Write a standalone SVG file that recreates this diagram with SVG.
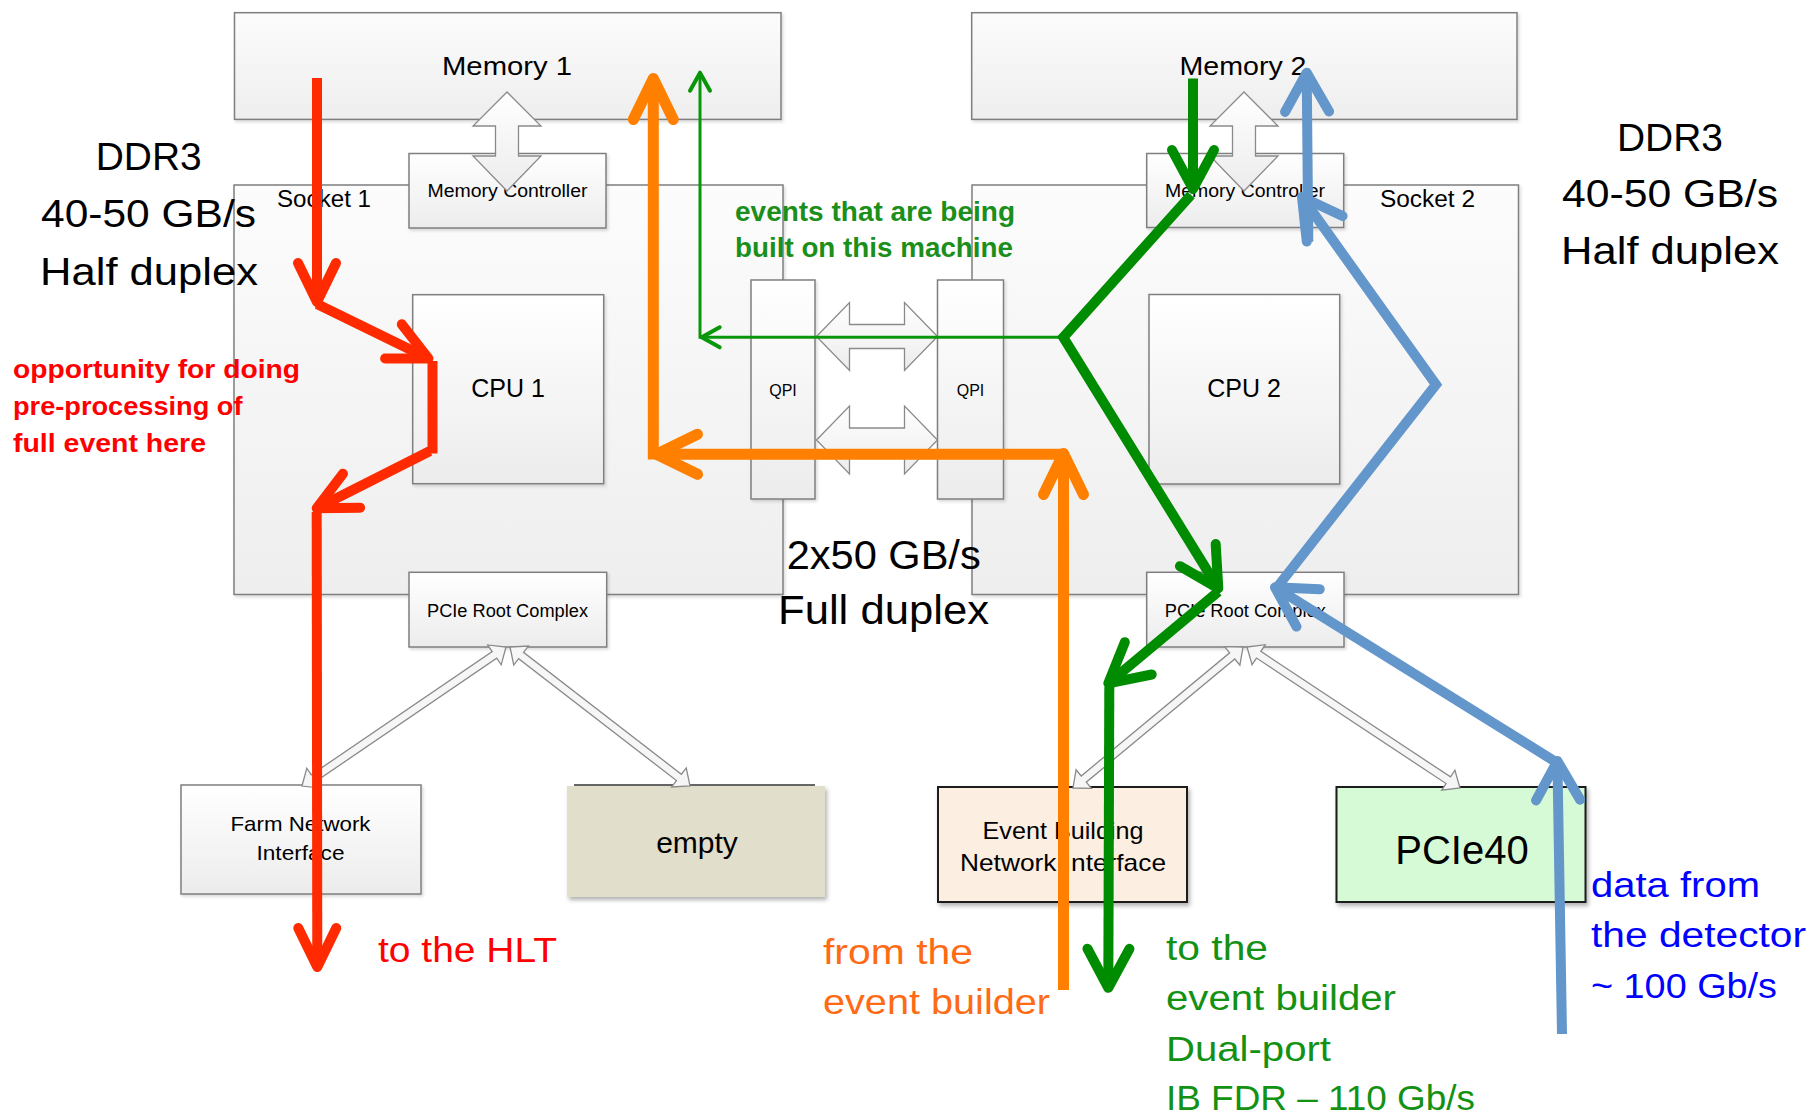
<svg xmlns="http://www.w3.org/2000/svg" width="1812" height="1118" viewBox="0 0 1812 1118">
<defs>
<linearGradient id="gBox" x1="0" y1="0" x2="0" y2="1"><stop offset="0" stop-color="#ffffff"/><stop offset="1" stop-color="#ececec"/></linearGradient>
<linearGradient id="gSock" x1="0" y1="0" x2="0" y2="1"><stop offset="0" stop-color="#fcfcfc"/><stop offset="1" stop-color="#eeeeee"/></linearGradient>
<filter id="sh" x="-10%" y="-10%" width="130%" height="140%"><feDropShadow dx="2" dy="3" stdDeviation="2" flood-color="#000" flood-opacity="0.3"/></filter>
<filter id="shL" x="-10%" y="-10%" width="130%" height="140%"><feDropShadow dx="1.5" dy="2" stdDeviation="1.5" flood-color="#000" flood-opacity="0.15"/></filter>
<marker id="hRed" markerUnits="userSpaceOnUse" viewBox="-60 -35 70 70" refX="0" refY="0" markerWidth="70" markerHeight="70" orient="auto" overflow="visible"><path d="M-39,-19 L0,0 L-39,19" fill="none" stroke="#ff2a00" stroke-width="10" stroke-linecap="round" stroke-linejoin="round"/></marker>
<marker id="hOrange" markerUnits="userSpaceOnUse" viewBox="-60 -35 70 70" refX="0" refY="0" markerWidth="70" markerHeight="70" orient="auto" overflow="visible"><path d="M-41,-20 L0,0 L-41,20" fill="none" stroke="#ff8000" stroke-width="11" stroke-linecap="round" stroke-linejoin="round"/></marker>
<marker id="hGreen" markerUnits="userSpaceOnUse" viewBox="-60 -35 70 70" refX="0" refY="0" markerWidth="70" markerHeight="70" orient="auto" overflow="visible"><path d="M-39,-21 L0,0 L-39,21" fill="none" stroke="#008c00" stroke-width="10" stroke-linecap="round" stroke-linejoin="round"/></marker>
<marker id="hBlue" markerUnits="userSpaceOnUse" viewBox="-60 -35 70 70" refX="0" refY="0" markerWidth="70" markerHeight="70" orient="auto" overflow="visible"><path d="M-39,-22 L0,0 L-39,22" fill="none" stroke="#6396cb" stroke-width="10" stroke-linecap="round" stroke-linejoin="round"/></marker>
<marker id="hThin" markerUnits="userSpaceOnUse" viewBox="-30 -15 35 30" refX="0" refY="0" markerWidth="35" markerHeight="30" orient="auto" overflow="visible"><path d="M-18,-10 L0,0 L-18,10" fill="none" stroke="#0a960a" stroke-width="4" stroke-linecap="round" stroke-linejoin="round"/></marker>
<style>
.box{fill:url(#gBox);stroke:#7f7f7f;stroke-width:1.5}
.sock{fill:url(#gSock);stroke:#7f7f7f;stroke-width:1.5}
.t{font-family:"Liberation Sans",Arial,sans-serif;fill:#000}
.c{text-anchor:middle}
.hol{fill:#f6f6f6;stroke:#8a8a8a;stroke-width:1.3}
.blk{fill:url(#gBox);stroke:#8a8a8a;stroke-width:1.3}
.fl{fill:none;stroke-linecap:butt;stroke-linejoin:miter}
.red{stroke:#ff2a00;stroke-width:10}
.org{stroke:#ff8000;stroke-width:11}
.grn{stroke:#008c00;stroke-width:10}
.blu{stroke:#6396cb;stroke-width:10}
.thn{stroke:#0a960a;stroke-width:3}
</style>
</defs>
<rect width="1812" height="1118" fill="#ffffff"/>

<g id="socket1"><rect class="sock" x="234" y="185" width="549" height="409.5" filter="url(#shL)"/><text class="t" x="277" y="206.5" font-size="23" textLength="94" lengthAdjust="spacingAndGlyphs">Socket 1</text></g>
<g id="socket2"><rect class="sock" x="972" y="185" width="546.5" height="409.5" filter="url(#shL)"/><text class="t" x="1380" y="206.5" font-size="23" textLength="95" lengthAdjust="spacingAndGlyphs">Socket 2</text></g>
<g id="memory1"><rect class="sock" x="234.5" y="12.7" width="546.5" height="106.7" filter="url(#shL)"/><text class="t c" x="507" y="75" font-size="26" textLength="130" lengthAdjust="spacingAndGlyphs">Memory 1</text></g>
<g id="memory2"><rect class="sock" x="971.7" y="12.7" width="545.3" height="106.7" filter="url(#shL)"/><text class="t c" x="1243" y="75" font-size="26" textLength="127" lengthAdjust="spacingAndGlyphs">Memory 2</text></g>
<g id="memctrl1"><rect class="box" x="409" y="153.5" width="197" height="74.5" filter="url(#shL)"/><text class="t c" x="507.5" y="197" font-size="18" textLength="160" lengthAdjust="spacingAndGlyphs">Memory Controller</text></g>
<g id="memctrl2"><rect class="box" x="1146.7" y="153.5" width="197" height="74" filter="url(#shL)"/><text class="t c" x="1245" y="197" font-size="18" textLength="160" lengthAdjust="spacingAndGlyphs">Memory Controller</text></g>
<g id="cpu1"><rect class="box" x="412.7" y="294.7" width="191" height="189" filter="url(#shL)"/><text class="t c" x="508" y="397" font-size="25">CPU 1</text></g>
<g id="cpu2"><rect class="box" x="1149" y="294.5" width="190.7" height="189.5" filter="url(#shL)"/><text class="t c" x="1244" y="397" font-size="25">CPU 2</text></g>
<g id="qpi1"><rect class="box" x="751" y="280" width="64" height="219" filter="url(#shL)"/><text class="t c" x="783" y="396" font-size="16">QPI</text></g>
<g id="qpi2"><rect class="box" x="937.5" y="280" width="66" height="219" filter="url(#shL)"/><text class="t c" x="970.5" y="396" font-size="16">QPI</text></g>
<g id="pcie-root1"><rect class="box" x="409" y="572.3" width="197.7" height="74.7" filter="url(#shL)"/><text class="t c" x="507.5" y="616.7" font-size="18" textLength="161" lengthAdjust="spacingAndGlyphs">PCIe Root Complex</text></g>
<g id="pcie-root2"><rect class="box" x="1146.7" y="572.3" width="197.3" height="74.7" filter="url(#shL)"/><text class="t c" x="1245.3" y="616.7" font-size="18" textLength="161" lengthAdjust="spacingAndGlyphs">PCIe Root Complex</text></g>
<g id="farm-nic"><rect class="box" x="181" y="785" width="240" height="109" filter="url(#shL)"/><text class="t c" x="300.5" y="831" font-size="21" textLength="140" lengthAdjust="spacingAndGlyphs">Farm Network</text><text class="t c" x="300.5" y="860" font-size="21" textLength="88" lengthAdjust="spacingAndGlyphs">Interface</text></g>
<g id="empty"><rect x="567" y="786" width="258" height="111" fill="#e1decb" filter="url(#sh)"/><line x1="574" y1="785" x2="815" y2="785" stroke="#333" stroke-width="1.5"/><text class="t c" x="697" y="853" font-size="30">empty</text></g>
<g id="eb-nic"><rect x="938" y="787" width="249" height="115" fill="#fdeee2" stroke="#1a1a1a" stroke-width="2" filter="url(#sh)"/><text class="t c" x="1063" y="839" font-size="24" textLength="161" lengthAdjust="spacingAndGlyphs">Event Building</text><text class="t c" x="1063" y="871" font-size="24" textLength="206" lengthAdjust="spacingAndGlyphs">Network Interface</text></g>
<g id="pcie40"><rect x="1336.5" y="787" width="249" height="115" fill="#d6fad6" stroke="#1a1a1a" stroke-width="2" filter="url(#sh)"/><text class="t c" x="1462" y="864" font-size="40">PCIe40</text></g>

<g id="connectors">
<path class="blk" d="M507,92 L541,126 L518.5,126 L518.5,156 L541,156 L507,191 L473,156 L495.5,156 L495.5,126 L473,126 Z"/>
<path class="blk" d="M1244,92 L1278,126 L1255.5,126 L1255.5,156 L1278,156 L1244,191 L1210,156 L1232.5,156 L1232.5,126 L1210,126 Z"/>
<path class="blk" d="M816.5,336.5 L849.5,302.5 L849.5,324.5 L904.5,324.5 L904.5,302.5 L937.5,336.5 L904.5,370.5 L904.5,348.5 L849.5,348.5 L849.5,370.5 Z"/>
<path class="blk" d="M816.5,440 L849.5,406 L849.5,428 L904.5,428 L904.5,406 L937.5,440 L904.5,474 L904.5,452 L849.5,452 L849.5,474 Z"/>
<path class="hol" transform="translate(506,647) rotate(145.73)" d="M0,0 L14,-12 L14,-4 L232.9,-4 L232.9,-12 L246.9,0 L232.9,12 L232.9,4 L14,4 L14,12 Z"/>
<path class="hol" transform="translate(510,647) rotate(37.67)" d="M0,0 L14,-12 L14,-4 L213.4,-4 L213.4,-12 L227.4,0 L213.4,12 L213.4,4 L14,4 L14,12 Z"/>
<path class="hol" transform="translate(1243,647) rotate(140.33)" d="M0,0 L14,-12 L14,-4 L206.9,-4 L206.9,-12 L220.9,0 L206.9,12 L206.9,4 L14,4 L14,12 Z"/>
<path class="hol" transform="translate(1247,647) rotate(33.5)" d="M0,0 L14,-12 L14,-4 L241.4,-4 L241.4,-12 L255.4,0 L241.4,12 L241.4,4 L14,4 L14,12 Z"/>

<line class="fl thn" x1="1063" y1="337.3" x2="701.7" y2="337.3" marker-end="url(#hThin)"/>
<line class="fl thn" x1="700" y1="338.8" x2="700" y2="72.7" marker-end="url(#hThin)"/>

<line class="fl red" x1="317" y1="78" x2="317" y2="302" marker-end="url(#hRed)"/>
<line class="fl red" x1="317" y1="304" x2="428.5" y2="358.5" marker-end="url(#hRed)"/>
<line class="fl red" x1="432.5" y1="361" x2="432.5" y2="453.5"/>
<line class="fl red" x1="430" y1="451" x2="316.7" y2="508.3" marker-end="url(#hRed)"/>
<line class="fl red" x1="316.7" y1="512" x2="317.3" y2="967" marker-end="url(#hRed)"/>

<line class="fl org" x1="1063.5" y1="990" x2="1063.5" y2="453.5" marker-end="url(#hOrange)"/>
<line class="fl org" x1="1066" y1="454.3" x2="656.5" y2="454.3" marker-end="url(#hOrange)"/>
<line class="fl org" x1="653.3" y1="459.5" x2="653.3" y2="78.5" marker-end="url(#hOrange)"/>

<line class="fl grn" x1="1193" y1="78.5" x2="1193" y2="189" marker-end="url(#hGreen)"/>
<polyline class="fl grn" points="1191,195 1063.3,337.3 1218.3,588.3" marker-end="url(#hGreen)"/>
<line class="fl grn" x1="1218.3" y1="591.7" x2="1108.3" y2="683.3" marker-end="url(#hGreen)"/>
<line class="fl grn" x1="1109.3" y1="686.7" x2="1108.3" y2="987.8" marker-end="url(#hGreen)"/>

<line class="fl blu" x1="1562" y1="1034" x2="1557.4" y2="761" marker-end="url(#hBlue)"/>
<line class="fl blu" x1="1557.4" y1="763" x2="1275" y2="587.3" marker-end="url(#hBlue)"/>
<polyline class="fl blu" points="1275,590 1436,384.6 1302,197" marker-end="url(#hBlue)"/>
<line class="fl blu" x1="1308.3" y1="241.7" x2="1306.7" y2="72.7" marker-end="url(#hBlue)"/>
</g>

<g id="annotations">
<text class="t c" x="148.7" y="169.5" font-size="38" textLength="106" lengthAdjust="spacingAndGlyphs">DDR3</text>
<text class="t c" x="148.5" y="226.5" font-size="38" textLength="215" lengthAdjust="spacingAndGlyphs">40-50 GB/s</text>
<text class="t c" x="149" y="285" font-size="38" textLength="218" lengthAdjust="spacingAndGlyphs">Half duplex</text>
<text class="t c" x="1670" y="151" font-size="38" textLength="106" lengthAdjust="spacingAndGlyphs">DDR3</text>
<text class="t c" x="1670" y="206.5" font-size="38" textLength="216" lengthAdjust="spacingAndGlyphs">40-50 GB/s</text>
<text class="t c" x="1670" y="264" font-size="38" textLength="218" lengthAdjust="spacingAndGlyphs">Half duplex</text>
<text class="t" x="786.7" y="568.5" font-size="40" textLength="194" lengthAdjust="spacingAndGlyphs">2x50 GB/s</text>
<text class="t" x="778" y="624" font-size="40" textLength="211" lengthAdjust="spacingAndGlyphs">Full duplex</text>
<text class="t" x="735" y="221" font-size="27" font-weight="bold" fill="#1a8f1a" style="fill:#1a8f1a" textLength="280" lengthAdjust="spacingAndGlyphs">events that are being</text>
<text class="t" x="735" y="257" font-size="27" font-weight="bold" style="fill:#1a8f1a" textLength="278" lengthAdjust="spacingAndGlyphs">built on this machine</text>
<text class="t" x="13" y="377.5" font-size="26" font-weight="bold" style="fill:#ff0000" textLength="287" lengthAdjust="spacingAndGlyphs">opportunity for doing</text>
<text class="t" x="13" y="415" font-size="26" font-weight="bold" style="fill:#ff0000" textLength="229.5" lengthAdjust="spacingAndGlyphs">pre-processing of</text>
<text class="t" x="13" y="451.5" font-size="26" font-weight="bold" style="fill:#ff0000" textLength="193" lengthAdjust="spacingAndGlyphs">full event here</text>
<text class="t" x="378" y="962" font-size="35" style="fill:#ff0000" textLength="179" lengthAdjust="spacingAndGlyphs">to the HLT</text>
<text class="t" x="823" y="964" font-size="35" style="fill:#ff6b15" textLength="150" lengthAdjust="spacingAndGlyphs">from the</text>
<text class="t" x="823" y="1013.5" font-size="35" style="fill:#ff6b15" textLength="227" lengthAdjust="spacingAndGlyphs">event builder</text>
<text class="t" x="1166" y="959.5" font-size="35" style="fill:#139113" textLength="102" lengthAdjust="spacingAndGlyphs">to the</text>
<text class="t" x="1166" y="1010" font-size="35" style="fill:#139113" textLength="230" lengthAdjust="spacingAndGlyphs">event builder</text>
<text class="t" x="1166" y="1060.5" font-size="35" style="fill:#139113" textLength="165" lengthAdjust="spacingAndGlyphs">Dual-port</text>
<text class="t" x="1166" y="1109.5" font-size="35" style="fill:#139113" textLength="309" lengthAdjust="spacingAndGlyphs">IB FDR – 110 Gb/s</text>
<text class="t" x="1591" y="897" font-size="35" style="fill:#0000ff" textLength="169" lengthAdjust="spacingAndGlyphs">data from</text>
<text class="t" x="1591" y="947" font-size="35" style="fill:#0000ff" textLength="215" lengthAdjust="spacingAndGlyphs">the detector</text>
<text class="t" x="1591" y="998" font-size="35" style="fill:#0000ff" textLength="186" lengthAdjust="spacingAndGlyphs">~ 100 Gb/s</text>
</g>
</svg>
